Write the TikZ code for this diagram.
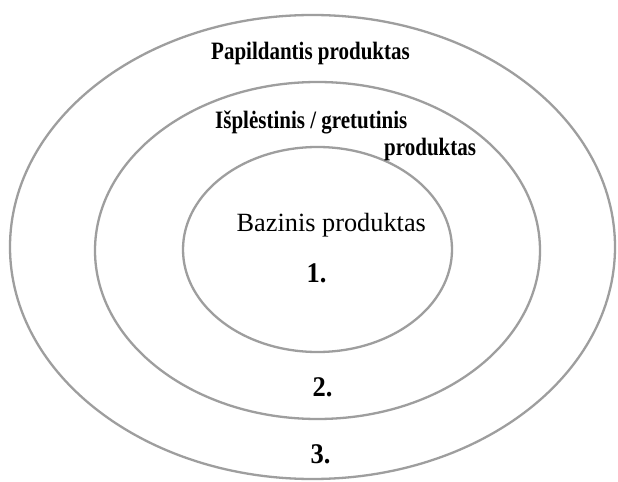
\documentclass[tikz,border=0pt]{standalone}
\usepackage{fontspec}
\setmainfont{Liberation Serif}
\newfontfamily\narrowbold[FakeStretch=0.84]{Liberation Serif Bold}
\newfontfamily\numbold[FakeStretch=0.93]{Liberation Serif Bold}
\begin{document}
\begin{tikzpicture}[x=1bp,y=-1bp,
  ring/.style={draw=black!38,line width=2.3bp},
  lbl/.style={inner sep=0pt,anchor=base west,font=\narrowbold\fontsize{25bp}{29bp}\selectfont},
  core/.style={inner sep=0pt,anchor=base west,font=\fontsize{26.3bp}{30bp}\selectfont},
  num/.style={inner sep=0pt,anchor=base west,font=\numbold\fontsize{28.5bp}{32bp}\selectfont}]
  \useasboundingbox[fill=white] (0,0) rectangle (618,482);
  % nested product levels
  \draw[ring] (312.5,247) ellipse [x radius=302.5,y radius=232];
  \draw[ring] (317.5,250.5) ellipse [x radius=222.5,y radius=168.5];
  \draw[ring] (317.5,249.5) ellipse [x radius=134.5,y radius=102.5];
  % labels
  \node[lbl] (papild) at (211,59.5) {Papildantis produktas};
  \node[lbl] (isplest) at (215,129) {Išplėstinis / gretutinis};
  \node[lbl] (isplest2) at (384,155.5) {produktas};
  \node[core] (bazinis) at (236.5,232) {Bazinis produktas};
  \node[num] (n1) at (306.5,282) {1.};
  \node[num] (n2) at (312.5,396.5) {2.};
  \node[num] (n3) at (310.5,463.5) {3.};
\end{tikzpicture}
\end{document}
